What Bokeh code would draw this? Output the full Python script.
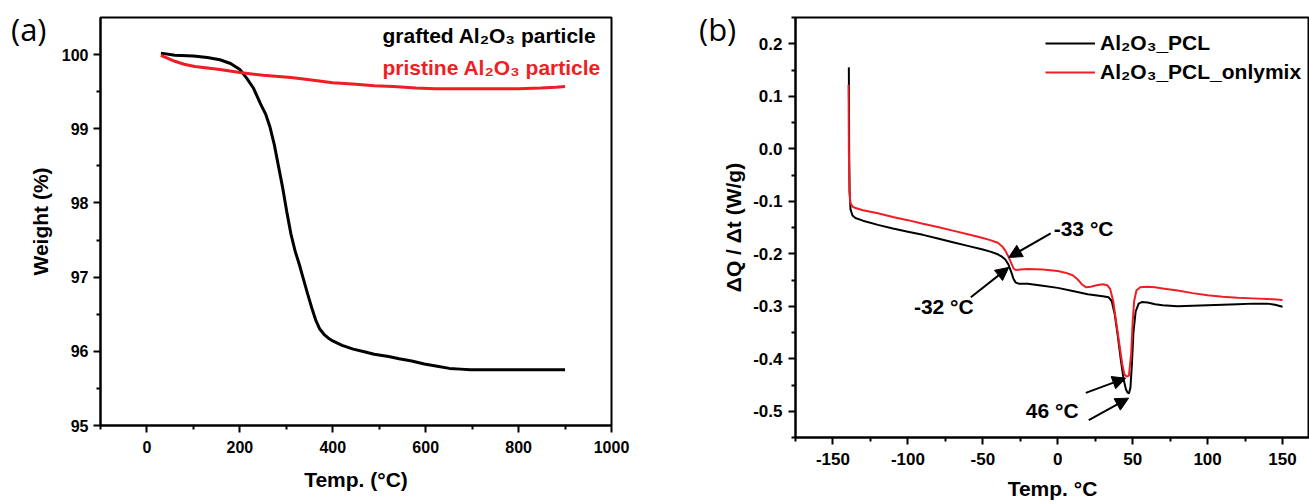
from bokeh.plotting import figure
from bokeh.layouts import column
from bokeh.models import (Label, Arrow, NormalHead, FixedTicker, Legend, LegendItem,
                          NumeralTickFormatter, Range1d, GridBox, Div)
from bokeh.embed import file_html
from bokeh.resources import INLINE

# ---------- panel (a): TGA ----------
grafted_T = [30, 60, 100, 130, 157, 180, 200, 215, 229, 245, 256, 265, 274, 283, 292, 301, 310,
             319, 328, 337, 346, 355, 364, 372, 381, 390, 400, 420, 444, 470, 489, 520, 543,
             570, 597, 625, 651, 675, 696, 750, 800, 850, 900]
grafted_W = [100.02, 99.99, 99.98, 99.96, 99.93, 99.88, 99.8, 99.68, 99.55, 99.33, 99.19, 99.02,
             98.79, 98.5, 98.21, 97.88, 97.58, 97.35, 97.17, 96.97, 96.77, 96.58, 96.41, 96.3,
             96.23, 96.18, 96.14, 96.08, 96.03, 95.99, 95.96, 95.93, 95.9, 95.87, 95.83, 95.8,
             95.77, 95.76, 95.75, 95.75, 95.75, 95.75, 95.75]
pristine_T = [30, 45, 60, 80, 103, 130, 157, 200, 250, 310, 350, 400, 450, 489, 530, 579, 620,
              669, 710, 758, 800, 848, 880, 900]
pristine_W = [99.99, 99.95, 99.91, 99.87, 99.84, 99.82, 99.8, 99.76, 99.72, 99.69, 99.66, 99.62,
              99.6, 99.58, 99.57, 99.55, 99.54, 99.54, 99.54, 99.54, 99.54, 99.55, 99.56, 99.57]
a_xticks = [0, 200, 400, 600, 800, 1000]
a_yticks = [95, 96, 97, 98, 99, 100]

# ---------- panel (b): DSC ----------
pcl_T = [-139.4, -139.2, -138.9, -138.3, -137, -135, -130, -120, -110, -100, -90, -80, -70, -60,
         -50, -45, -40, -37, -35, -33, -31, -29.5, -28, -26, -20, -10, 0, 10, 20, 25, 30, 34, 36,
         38, 40, 42, 44, 45.5, 46.5, 47.5, 48.5, 49.5, 50.5, 52, 54, 56, 60, 65, 70, 80, 90, 100,
         110, 120, 130, 140, 145, 150]
pcl_Q = [0.155, 0.0, -0.08, -0.115, -0.127, -0.132, -0.137, -0.145, -0.152, -0.158, -0.164,
         -0.171, -0.178, -0.185, -0.192, -0.196, -0.201, -0.206, -0.211, -0.22, -0.235, -0.248,
         -0.255, -0.257, -0.257, -0.261, -0.265, -0.271, -0.277, -0.279, -0.281, -0.283, -0.29,
         -0.315, -0.355, -0.4, -0.44, -0.458, -0.464, -0.466, -0.455, -0.41, -0.35, -0.31,
         -0.295, -0.292, -0.293, -0.296, -0.298, -0.300, -0.299, -0.298, -0.297, -0.296, -0.295,
         -0.295, -0.297, -0.301]
mix_T = [-139.6, -139.4, -139.0, -138.4, -137, -135, -130, -120, -110, -100, -90, -80, -70, -60,
         -50, -45, -40, -37, -35, -33, -31, -29.5, -28, -25, -20, -10, 0, 5, 10, 13, 16, 19, 22,
         26, 30, 33, 35, 37, 39, 41, 43, 44.5, 46, 47.5, 49, 50, 51, 52.5, 55, 60, 65, 70, 80, 90,
         100, 110, 120, 130, 140, 150]
mix_Q = [0.122, 0.0, -0.08, -0.103, -0.110, -0.113, -0.117, -0.123, -0.130, -0.136, -0.143,
         -0.149, -0.156, -0.163, -0.170, -0.174, -0.179, -0.186, -0.194, -0.205, -0.218, -0.228,
         -0.231, -0.230, -0.229, -0.230, -0.233, -0.236, -0.241, -0.248, -0.258, -0.264, -0.263,
         -0.260, -0.258, -0.26, -0.267, -0.29, -0.33, -0.37, -0.41, -0.43, -0.434, -0.432, -0.39,
         -0.33, -0.29, -0.27, -0.264, -0.263, -0.264, -0.266, -0.270, -0.275, -0.279, -0.282,
         -0.284, -0.285, -0.286, -0.288]
b_xticks = [-150, -100, -50, 0, 50, 100, 150]
b_yticks = [-0.5, -0.4, -0.3, -0.2, -0.1, 0.0, 0.1, 0.2]

FONT = "Liberation Sans"
RED = "#f01e24"


def style(p, tick_size):
    p.grid.visible = False
    p.outline_line_color = "black"
    p.outline_line_width = 2
    p.background_fill_color = "white"
    for ax in (p.xaxis[0], p.yaxis[0]):
        ax.axis_line_width = 2
        ax.major_tick_line_width = 2
        ax.minor_tick_line_width = 2
        ax.major_tick_in = 0
        ax.major_tick_out = 7
        ax.minor_tick_in = 0
        ax.minor_tick_out = 4
        ax.major_label_text_font = FONT
        ax.major_label_text_font_style = "bold"
        ax.major_label_text_font_size = tick_size
        ax.major_label_text_color = "black"
        ax.axis_label_text_font = FONT
        ax.axis_label_text_font_style = "bold"
        ax.axis_label_text_font_size = "21px"
        ax.axis_label_text_color = "black"


def panel_tag(text, left):
    html = ('<div style="position:relative;left:%dpx;top:9px;font-family:\'Open Sans\';'
            'font-size:31px;line-height:31px;color:black;white-space:nowrap;">%s</div>'
            % (left, text))
    return Div(text=html, width=60, height=52)


# ---- panel a ----
p1 = figure(width=695, height=504, x_range=Range1d(-100, 1000), y_range=Range1d(95, 100.5),
            output_backend="svg", toolbar_location=None,
            min_border_left=100, min_border_right=84, min_border_top=17, min_border_bottom=79)
style(p1, "16px")
p1.xaxis[0].ticker = FixedTicker(ticks=a_xticks, minor_ticks=[-100, 100, 300, 500, 700, 900])
p1.yaxis[0].ticker = FixedTicker(ticks=a_yticks, minor_ticks=[95.5, 96.5, 97.5, 98.5, 99.5])
p1.xaxis[0].axis_label = "Temp. (°C)"
p1.yaxis[0].axis_label = "Weight (%)"
p1.xaxis[0].major_label_standoff = 8
p1.yaxis[0].major_label_standoff = 5
p1.xaxis[0].axis_label_standoff = 12
p1.yaxis[0].axis_label_standoff = 7

p1.line(grafted_T, grafted_W, line_color="black", line_width=3)
p1.line(pristine_T, pristine_W, line_color=RED, line_width=3)

p1.add_layout(Label(x=507, y=100.256, text="grafted Al₂O₃ particle", text_baseline="middle",
                    text_font=FONT, text_font_style="bold", text_font_size="21px",
                    text_color="black"))
p1.add_layout(Label(x=507, y=99.83, text="pristine Al₂O₃ particle", text_baseline="middle",
                    text_font=FONT, text_font_style="bold", text_font_size="21px",
                    text_color=RED))

# ---- panel b ----
p2 = figure(width=614, height=504, x_range=Range1d(-175, 168), y_range=Range1d(-0.55, 0.25),
            output_backend="svg", toolbar_location=None,
            min_border_left=100, min_border_right=0, min_border_top=17, min_border_bottom=67)
style(p2, "17px")
p2.xaxis[0].ticker = FixedTicker(ticks=b_xticks,
                                 minor_ticks=[-175, -125, -75, -25, 25, 75, 125])
p2.yaxis[0].ticker = FixedTicker(ticks=b_yticks,
                                 minor_ticks=[-0.55, -0.45, -0.35, -0.25, -0.15, -0.05, 0.05,
                                              0.15, 0.25])
p2.yaxis[0].formatter = NumeralTickFormatter(format="0.0")
p2.xaxis[0].formatter = NumeralTickFormatter(format="0")
p2.xaxis[0].axis_label = "Temp. °C"
p2.yaxis[0].axis_label = "ΔQ / Δt (W/g)"
p2.xaxis[0].major_label_standoff = 8
p2.yaxis[0].major_label_standoff = 6
p2.xaxis[0].axis_label_standoff = 9
p2.yaxis[0].axis_label_standoff = 5

r1 = p2.line(pcl_T, pcl_Q, line_color="black", line_width=2)
r2 = p2.line(mix_T, mix_Q, line_color=RED, line_width=2)

legend = Legend(items=[LegendItem(label="Al₂O₃_PCL", renderers=[r1]),
                       LegendItem(label="Al₂O₃_PCL_onlymix", renderers=[r2])],
                location=(250, 353), border_line_color=None, background_fill_alpha=0,
                glyph_width=50, glyph_height=24, label_height=24, label_standoff=5,
                spacing=5, padding=0, margin=0,
                label_text_font=FONT, label_text_font_style="bold",
                label_text_font_size="21px", label_text_color="black")
p2.add_layout(legend)

for (xs, ys, xe, ye) in [(-4.7, -0.161, -32.7, -0.207), (-58, -0.283, -32.7, -0.226),
                         (18.7, -0.465, 45.3, -0.437), (20.7, -0.517, 47.3, -0.475)]:
    p2.add_layout(Arrow(x_start=xs, y_start=ys, x_end=xe, y_end=ye, line_width=2,
                        line_color="black",
                        end=NormalHead(size=13, fill_color="black", line_color="black")))

for (tx, ty, t) in [(-2.7, -0.152, "-33 °C"), (-96, -0.300, "-32 °C"), (-21.3, -0.498, "46 °C")]:
    p2.add_layout(Label(x=tx, y=ty, text=t, text_baseline="middle", text_align="left",
                        text_font=FONT, text_font_style="bold", text_font_size="21px",
                        text_color="black"))

tag_a = panel_tag("(a)", 6)
tag_b = panel_tag("(b)", -1)

layout = GridBox(children=[(column(p1), 0, 0), (column(p2), 0, 1), (tag_a, 0, 0), (tag_b, 0, 1)],
                 spacing=0)
open("out.html", "w").write(file_html(layout, INLINE))
